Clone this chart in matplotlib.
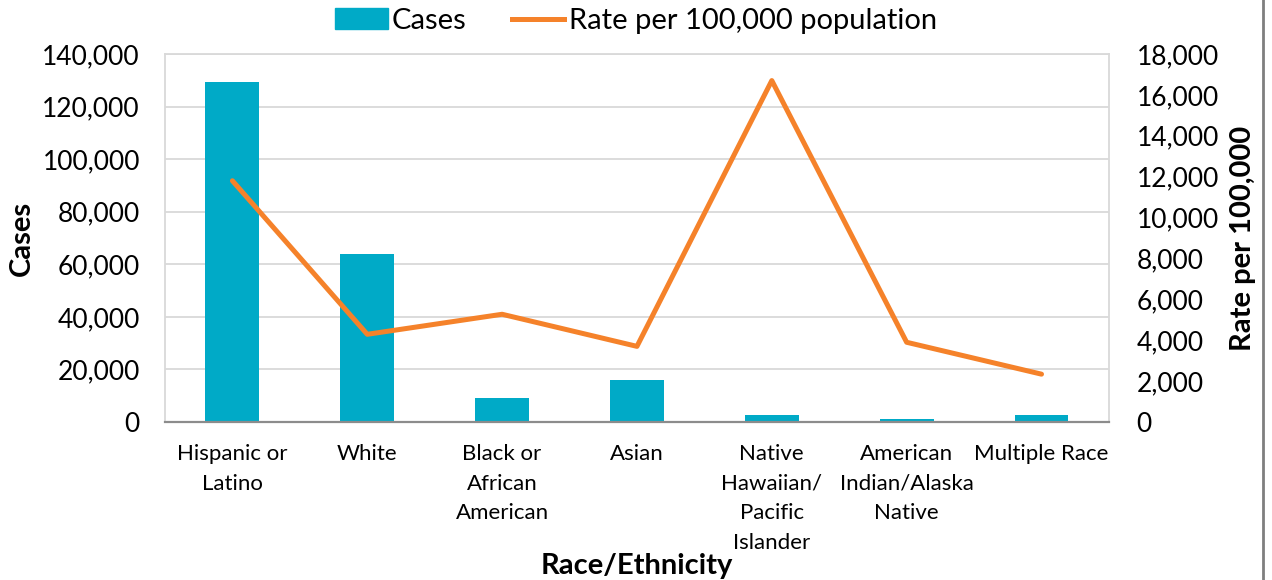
import numpy as np
import matplotlib.pyplot as plt
from matplotlib.ticker import FuncFormatter, MultipleLocator
from matplotlib.lines import Line2D

plt.rcParams['font.family'] = ['Lato', 'DejaVu Sans']

categories = ["Hispanic or\nLatino", "White", "Black or\nAfrican\nAmerican", "Asian",
              "Native\nHawaiian/\nPacific\nIslander", "American\nIndian/Alaska\nNative",
              "Multiple Race"]
cases = [129200, 64100, 9100, 15900, 2600, 1000, 2700]
rate = [11800, 4290, 5270, 3700, 16700, 3900, 2340]

bar_color = '#00AAC7'
line_color = '#F5822A'

fig = plt.figure(figsize=(12.72, 5.8), dpi=100)
ax = fig.add_axes([0.1297, 0.2724, 0.7421, 0.6345])
x = np.arange(len(categories))

ax.bar(x, cases, width=0.4, color=bar_color, label='Cases', zorder=2)
ax.set_ylim(0, 140000)
ax.set_xlim(-0.5, len(categories) - 0.5)
ax.yaxis.set_major_locator(MultipleLocator(20000))
ax.yaxis.set_major_formatter(FuncFormatter(lambda v, p: f"{int(v):,}"))
ax.grid(axis='y', color='#d9d9d9', linewidth=1.3, zorder=0)
ax.set_xticks(x)
ax.set_xticklabels(categories, fontsize=16, linespacing=1.6, va='top')
ax.tick_params(axis='x', length=0, pad=16)
ax.tick_params(axis='y', length=0, labelsize=19, pad=18)
for s in ['top', 'left', 'right']:
    ax.spines[s].set_color('#d9d9d9')
    ax.spines[s].set_linewidth(1.3)
ax.spines['bottom'].set_color('#8c8c8c')
ax.spines['bottom'].set_linewidth(1.6)
ax.set_ylabel('Cases', fontsize=21, fontweight='bold', va='center')
ax.yaxis.set_label_coords(-0.1515, 0.5)
ax.set_xlabel('Race/Ethnicity', fontsize=21, fontweight='bold', va='center')
ax.xaxis.set_label_coords(0.5, -0.392)

ax2 = ax.twinx()
ax2.plot(x, rate, color=line_color, linewidth=3.6, solid_capstyle='round',
         label='Rate per 100,000 population', zorder=3)
ax2.set_ylim(0, 18000)
ax2.yaxis.set_major_locator(MultipleLocator(2000))
ax2.yaxis.set_major_formatter(FuncFormatter(lambda v, p: f"{int(v):,}"))
ax2.tick_params(axis='y', length=0, labelsize=19, pad=20)
for s in ax2.spines.values():
    s.set_visible(False)
ax2.set_ylabel('Rate per 100,000', fontsize=21, fontweight='bold', va='center')
ax2.yaxis.set_label_coords(1.142, 0.5)

handles = [plt.Rectangle((0, 0), 1, 1, color=bar_color),
           Line2D([0], [0], color=line_color, linewidth=3.6)]
fig.legend(handles, ['Cases', 'Rate per 100,000 population'], loc='center',
           bbox_to_anchor=(0.5, 0.964), ncol=2, frameon=False, fontsize=21,
           handlelength=1.8, handletextpad=0.15, columnspacing=1.55)

fig.add_artist(Line2D([0.993, 0.993], [0, 1], color='#7f7f7f', linewidth=2,
                      transform=fig.transFigure))

fig.savefig('out.png', dpi=100)
